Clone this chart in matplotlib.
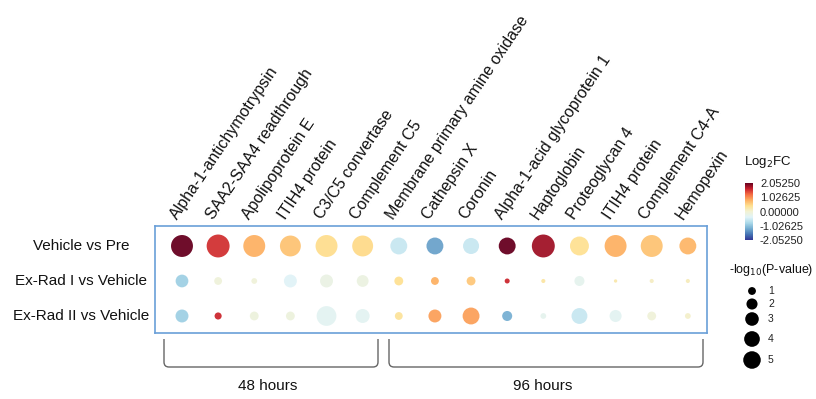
import numpy as np
import matplotlib
matplotlib.use("Agg")
import matplotlib.pyplot as plt
from matplotlib.path import Path
from matplotlib.patches import PathPatch
from matplotlib.colors import Normalize, LinearSegmentedColormap
from matplotlib.cm import ScalarMappable

plt.rcParams['font.family'] = ['Liberation Sans', 'DejaVu Sans']

proteins = ["Alpha-1-antichymotrypsin", "SAA2-SAA4 readthrough", "Apolipoprotein E",
            "ITIH4 protein", "C3/C5 convertase", "Complement C5",
            "Membrane primary amine oxidase", "Cathepsin X", "Coronin",
            "Alpha-1-acid glycoprotein 1", "Haptoglobin", "Proteoglycan 4",
            "ITIH4 protein", "Complement C4-A", "Hemopexin"]
comparisons = ["Vehicle vs Pre", "Ex-Rad I vs Vehicle", "Ex-Rad II vs Vehicle"]

# log2 fold change per comparison
fc_pre = [2.05, 1.55, 0.80, 0.65, 0.42, 0.45, -0.60, -1.30, -0.60, 2.05, 1.80, 0.40, 0.80, 0.65, 0.75]
fc_rad1 = [-0.90, -0.08, -0.05, -0.40, -0.18, -0.15, 0.40, 0.80, 0.60, 1.60, 0.30, -0.30, 0.25, 0.10, 0.15]
fc_rad2 = [-0.90, 1.60, -0.10, -0.10, -0.35, -0.35, 0.35, 0.90, 0.90, -1.20, -0.30, -0.60, -0.35, -0.05, 0.05]

# -log10(p-value) per comparison
p_pre = [8.6, 9.4, 8.6, 7.8, 8.6, 7.8, 5.1, 5.1, 4.6, 5.1, 9.4, 6.4, 8.6, 8.6, 5.1]
p_rad1 = [2.9, 1.1, 0.6, 3.0, 3.0, 2.5, 1.4, 1.1, 1.4, 0.45, 0.3, 1.8, 0.2, 0.3, 0.3]
p_rad2 = [3.0, 0.9, 1.4, 1.4, 7.0, 3.5, 1.1, 3.0, 5.1, 1.8, 0.6, 4.5, 2.6, 1.4, 0.6]

size_legend = [1, 2, 3, 4, 5]
cbar_ticks = [2.0525, 1.02625, 0.0, -1.02625, -2.0525]
groups = ["48 hours", "96 hours"]

fc = np.array([fc_pre, fc_rad1, fc_rad2])
pv = np.array([p_pre, p_rad1, p_rad2])

W, H = 816, 399
fig = plt.figure(figsize=(W / 100, H / 100), dpi=100)

def px(x0, y0, x1, y1):
    return [x0 / W, 1 - y1 / H, (x1 - x0) / W, (y1 - y0) / H]

S = 29.0  # area per unit of -log10 p (pt^2)
cmap = LinearSegmentedColormap.from_list('fc', [
    '#313695', '#4575b4', '#74add1', '#abd9e9', '#e0f3f8', '#f2f2d4',
    '#fee090', '#fdae61', '#f46d43', '#c8202d', '#67001f'])
norm = Normalize(-2.0525, 2.0525)

ax = fig.add_axes(px(155, 226, 707, 333))
xx, yy = np.meshgrid(np.arange(len(proteins)), np.arange(len(comparisons)))
ax.scatter(xx.ravel(), yy.ravel(), s=pv.ravel() * S, c=fc.ravel(), cmap=cmap,
           norm=norm, linewidths=0, alpha=0.95)
ax.set_xlim(-0.747, 14.53)
ax.set_ylim(2.486, -0.571)
ax.set_xticks([])
ax.set_yticks([])
for sp in ax.spines.values():
    sp.set_color('#6a9fd8')
    sp.set_linewidth(1.2)

for i, name in enumerate(proteins):
    ax.text(i - 5 / 36.14, -0.743, name, rotation=56, rotation_mode='anchor',
            ha='left', va='baseline', fontsize=11.5, color='#111111', clip_on=False)
for j, name in enumerate(comparisons):
    ax.text(-2.795, j, name, ha='center', va='center', fontsize=11,
            color='#111111', clip_on=False)

# overlay in pixel coordinates for brackets and legends
ov = fig.add_axes([0, 0, 1, 1])
ov.set_xlim(0, W)
ov.set_ylim(H, 0)
ov.axis('off')
ov.patch.set_visible(False)

def bracket(x0, x1, top=339, bot=367, r=5):
    verts = [(x0, top), (x0, bot - r), (x0, bot), (x0 + r, bot),
             (x1 - r, bot), (x1, bot), (x1, bot - r), (x1, top)]
    codes = [Path.MOVETO, Path.LINETO, Path.CURVE3, Path.CURVE3,
             Path.LINETO, Path.CURVE3, Path.CURVE3, Path.LINETO]
    ov.add_patch(PathPatch(Path(verts, codes), fill=False, ec='#666666', lw=1.0))

bracket(164, 378)
bracket(389, 703)
ov.text(268, 386, groups[0], ha='center', va='center', fontsize=11, color='#111111')
ov.text(543, 386, groups[1], ha='center', va='center', fontsize=11, color='#111111')

# colorbar
cax = fig.add_axes(px(745, 183, 753, 240))
cb = fig.colorbar(ScalarMappable(norm=norm, cmap=cmap), cax=cax, ticks=cbar_ticks)
cb.outline.set_visible(False)
cb.ax.tick_params(length=0, labelsize=8, pad=5, colors='#222222')
cb.ax.set_yticklabels(["%.5f" % t for t in cbar_ticks])
ov.text(744, 162, 'Log$_2$FC', ha='left', va='center', fontsize=9.5, color='#111111')

# size legend
ov.text(813, 270, '-log$_{10}$(P-value)', ha='right', va='center', fontsize=9,
        color='#111111')
leg_y = [291, 304, 319, 339, 360]
ov.scatter([752] * len(size_legend), leg_y, s=np.array(size_legend) * S * 1.1,
           c='black', linewidths=0)
for v, y in zip(size_legend, leg_y):
    ov.text(768, y, str(v), ha='left', va='center', fontsize=7.5, color='#222222')

fig.savefig('out.png', dpi=100)
